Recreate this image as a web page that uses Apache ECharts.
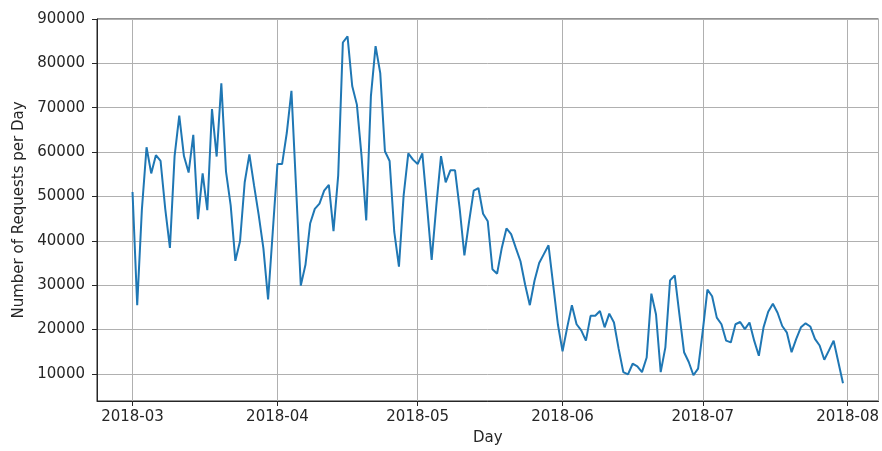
<!DOCTYPE html>
<html>
<head>
<meta charset="utf-8">
<script src="https://cdn.jsdelivr.net/npm/echarts@6/dist/echarts.min.js"></script>
<style>
  html, body { margin: 0; padding: 0; background: #ffffff; }
  #chart { width: 882px; height: 451px; }
</style>
</head>
<body>
<div id="chart"></div>
<script>
// Daily request counts, one value per day starting at the first day below.
const firstDay = [2018, 2, 1]; // year, month index (0-based), day
const requests = [
  51000, 25500, 47000, 61100, 55200, 59300, 58000, 47200, 38400, 59100,
  68200, 59100, 55400, 63900, 44900, 55200, 46900, 69700, 59000, 75500,
  55600, 48000, 35500, 39900, 53200, 59500, 52500, 45800, 38300, 26800,
  42000, 57300,
  57300, 64300, 73800, 51800, 29900, 34600, 43900, 47200, 48400, 51300,
  52600, 42200, 54700, 84700, 86100, 74900, 70700, 59100, 44600, 72600,
  83900, 77800, 60200, 58000, 42000, 34200, 50200, 59700, 58300, 57300,
  59700, 48000, 35700, 48000, 59100, 53200, 55900, 55900, 47200, 36700,
  44300, 51300, 51900, 46100, 44400, 33600, 32600, 38400, 42800, 41500,
  38400, 35400, 30100, 25500, 31000, 35000, 37000, 39000, 30100, 21200,
  15100, 20500, 25500, 21200, 19800, 17500, 23100, 23100, 24200, 20500,
  23600, 21600, 15700, 10400, 9900, 12300, 11700, 10400, 13700, 28100,
  23400, 10400, 16000, 31100, 32200, 23400, 14900, 12700, 9700, 11200,
  19700, 29000, 27500, 22700, 21200, 17500, 17100, 21200, 21700, 20100,
  21600, 17500, 14100, 20500, 24000, 25800, 23800, 20800, 19300, 14900,
  17900, 20500, 21400, 20700, 17900, 16400, 13200, 15300, 17500, 12700,
  7900
];
const yTicks = [10000, 20000, 30000, 40000, 50000, 60000, 70000, 80000, 90000];

const DAY = 86400000;
const days = requests.map((_, i) => new Date(firstDay[0], firstDay[1], firstDay[2] + i).getTime());
const points = days.map((t, i) => [t, requests[i]]);

// 5% padding on each side of the date range
const span = days[days.length - 1] - days[0];
const xMin = days[0] - span * 0.05;
const xMax = days[days.length - 1] + span * 0.05;

const txt = '#262626';
const font = 'DejaVu Sans';

const chart = echarts.init(document.getElementById('chart'), null, { renderer: 'canvas' });
chart.setOption({
  animation: false,
  backgroundColor: '#ffffff',
  grid: {
    left: 97, right: 2, top: 19, bottom: 47,
    show: true, borderColor: '#262626', borderWidth: 1, backgroundColor: 'transparent'
  },
  xAxis: {
    type: 'time',
    min: xMin,
    max: xMax,
    minInterval: 28 * DAY,
    maxInterval: 31 * DAY,
    name: 'Day',
    nameLocation: 'middle',
    nameGap: 30,
    nameTextStyle: { color: txt, fontFamily: font, fontSize: 15 },
    axisLine: { show: true, lineStyle: { color: '#262626', width: 1 } },
    axisTick: { show: true, length: 5, lineStyle: { color: '#262626' } },
    axisLabel: {
      color: txt, fontFamily: font, fontSize: 15, margin: 9,
      showMinLabel: false, showMaxLabel: false,
      formatter: function (v) {
        const d = new Date(v);
        return d.getFullYear() + '-' + String(d.getMonth() + 1).padStart(2, '0');
      }
    },
    splitLine: { show: true, lineStyle: { color: '#b0b0b0', width: 1 } }
  },
  yAxis: {
    type: 'value',
    min: 3900,
    max: 90000,
    name: 'Number of Requests per Day',
    nameLocation: 'middle',
    nameGap: 67,
    nameTextStyle: { color: txt, fontFamily: font, fontSize: 15 },
    axisLine: { show: true, lineStyle: { color: '#262626', width: 1 } },
    axisTick: { show: true, length: 5, customValues: yTicks, lineStyle: { color: '#262626' } },
    axisLabel: {
      color: txt, fontFamily: font, fontSize: 15, margin: 12,
      customValues: yTicks,
      formatter: function (v) { return String(v); }
    },
    splitLine: { show: true, lineStyle: { color: '#b0b0b0', width: 1 } }
  },
  series: [{
    type: 'line',
    data: points,
    showSymbol: false,
    symbol: 'none',
    lineStyle: { color: '#1f77b4', width: 2 },
    itemStyle: { color: '#1f77b4' }
  }]
});
</script>
</body>
</html>
